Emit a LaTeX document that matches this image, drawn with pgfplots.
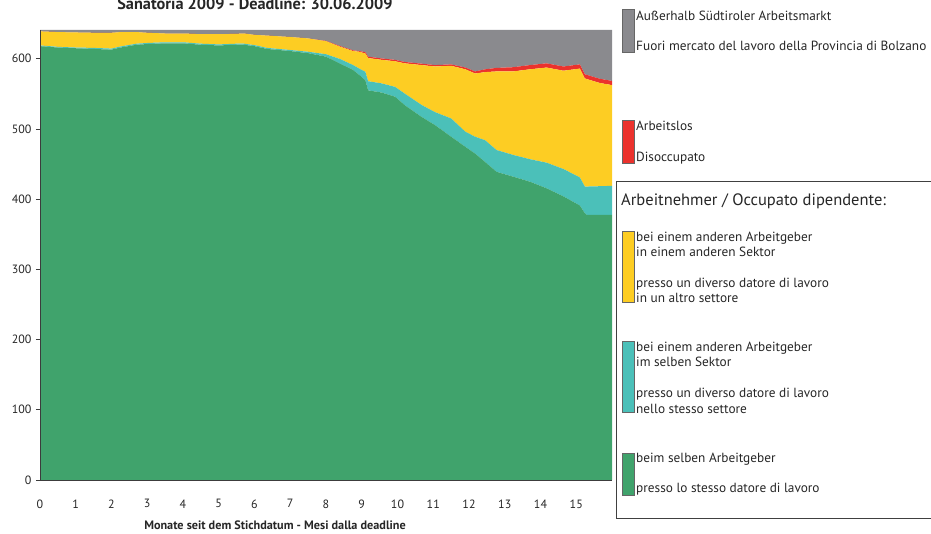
\documentclass[border=0pt]{standalone}
\usepackage{pgfplots}
\pgfplotsset{compat=1.18}
\usepackage{pgfplotstable}
\usepackage{fontspec}
\setmainfont{PT Sans}
\definecolor{cgray}{RGB}{138,138,142}
\definecolor{cred}{RGB}{235,50,45}
\definecolor{cyellow}{RGB}{253,205,35}
\definecolor{cteal}{RGB}{75,192,185}
\definecolor{cgreen}{RGB}{64,163,108}
\definecolor{axisc}{RGB}{60,60,60}

\pgfplotstableread{
x     green teal yellow red gray
0     618   1    20     0   2
0.5   616   1    21     0   3
1.0   615   1    21.5   0   3.5
1.5   614   1.5  21.5   0   4
2.0   613   1.5  22.5   0   4
2.25  616   1.5  20.5   0   3
2.7   620   1.5  16.5   0   3
3.0   621   1.5  14.5   0   4
3.5   622   1.5  12.5   0   5
4.0   622   1.5  12.5   0   5
4.5   620   1.5  13.5   0   6
5.0   619   1.5  14.5   0   6
5.5   620   1.5  14     0   5.5
5.7   620   1.5  14.5   0   5
6.0   618   1.5  14.5   0   7
6.35  614   1.5  17.5   0   8
7.0   611   1.5  18.5   0   10
7.5   608   2    19     0   12
8.0   603   3.5  18.5   0.5 15.5
8.4   593   6.5  17.5   1   23
8.76  584   7    20     1   29
8.93  577   9    24     1   30
9.1   569.5 12   26     2   31.5
9.18  555   13   33     2   38
9.55  552   13   33.5   2   40.5
9.93  546   14   36.5   2   42.5
10.2  534   16.5 43     2   45.5
10.68 517   17   57     2   48
11.05 505.5 18.5 65     2   50
11.5  489   26   75     2   49
11.9  474.5 21.5 89     2.5 53.5
12.17 465   24   90     3   59
12.45 453   31   97     4   56
12.77 439   31   112    5   54
13.24 432   31   119    6   53
13.7  425   32   128    6   50
14.17 415.5 36.5 135.5  6   47.5
14.64 404   39   140    6   52
15.1  391   40   155    6   49
15.24 380   38   154    6   63
15.3  377.5 40.5 153    6   64
15.66 377.5 41   147    6   69.5
16    377.5 41.5 143.5  6   72.5
}\data

\begin{document}
\begin{tikzpicture}
\begin{axis}[
  at={(40pt,53pt)}, anchor=south west,
  scale only axis, width=572pt, height=450pt,
  xmin=0, xmax=16, ymin=0, ymax=641,
  axis x line=bottom, axis y line=left,
  axis line style={axisc, line width=0.8pt, -},
  xtick={0,1,...,15}, ytick={0,100,...,600},
  x tick style={draw=none},
  y tick style={axisc, line width=0.6pt},
  tick align=outside, major tick length=4pt,
  /pgf/number format/assume math mode=true,
  ticklabel style={font=\fontsize{12}{14}\selectfont, text=black!85},
  xticklabel style={yshift=-12pt},
  yticklabel style={xshift=-1pt},
  stack plots=y, area style,
]
\addplot[fill=cgreen, draw=none] table[x=x, y=green]{\data} \closedcycle;
\addplot[fill=cteal, draw=none] table[x=x, y=teal]{\data} \closedcycle;
\addplot[fill=cyellow, draw=none] table[x=x, y=yellow]{\data} \closedcycle;
\addplot[fill=cred, draw=none] table[x=x, y=red]{\data} \closedcycle;
\addplot[fill=cgray, draw=none] table[x=x, y=gray]{\data} \closedcycle;
\end{axis}
\begin{scope}[x=1pt, y=1pt]
% title and x label
\node[anchor=base, font=\bfseries\fontsize{16.3}{19}\selectfont, text=black!85] at (255,523.3) {Sanatoria 2009 - Deadline: 30.06.2009};
\node[anchor=base, font=\bfseries\fontsize{12.2}{14}\selectfont, text=black!85] at (275,4) {Monate seit dem Stichdatum - Mesi dalla deadline};
% legend: upper entries
\def\lf{\fontsize{13.3}{16}\selectfont}
\draw[black!60, fill=cgray] (622,524) rectangle (634,481);
\node[anchor=base west, inner sep=0pt, font=\lf, text=black!85] at (636,512.5) {Außerhalb Südtiroler Arbeitsmarkt};
\node[anchor=base west, inner sep=0pt, font=\lf, text=black!85] at (636,482) {Fuori mercato del lavoro della Provincia di Bolzano};
\draw[black!60, fill=cred] (622,413) rectangle (634,370);
\node[anchor=base west, inner sep=0pt, font=\lf, text=black!85] at (636,402) {Arbeitslos};
\node[anchor=base west, inner sep=0pt, font=\lf, text=black!85] at (636,371) {Disoccupato};
% framed box
\draw[black!75, line width=0.8pt] (945,352) -- (616,352) -- (616,15) -- (945,15);
\node[anchor=base west, inner sep=0pt, font=\fontsize{16.5}{19}\selectfont, text=black!85] at (621,327) {Arbeitnehmer / Occupato dipendente:};
\draw[black!60, fill=cyellow] (622,301.3) rectangle (634,230.7);
\node[anchor=base west, inner sep=0pt, font=\lf, text=black!85] at (636,291.7) {bei einem anderen Arbeitgeber};
\node[anchor=base west, inner sep=0pt, font=\lf, text=black!85] at (636,276.3) {in einem anderen Sektor};
\node[anchor=base west, inner sep=0pt, font=\lf, text=black!85] at (636,245.3) {presso un diverso datore di lavoro};
\node[anchor=base west, inner sep=0pt, font=\lf, text=black!85] at (636,230.3) {in un altro settore};
\draw[black!60, fill=cteal] (622,191.3) rectangle (634,120.7);
\node[anchor=base west, inner sep=0pt, font=\lf, text=black!85] at (636,181.7) {bei einem anderen Arbeitgeber};
\node[anchor=base west, inner sep=0pt, font=\lf, text=black!85] at (636,166.3) {im selben Sektor};
\node[anchor=base west, inner sep=0pt, font=\lf, text=black!85] at (636,135.3) {presso un diverso datore di lavoro};
\node[anchor=base west, inner sep=0pt, font=\lf, text=black!85] at (636,120) {nello stesso settore};
\draw[black!60, fill=cgreen] (622,80.3) rectangle (634,38);
\node[anchor=base west, inner sep=0pt, font=\lf, text=black!85] at (636,71) {beim selben Arbeitgeber};
\node[anchor=base west, inner sep=0pt, font=\lf, text=black!85] at (636,40.7) {presso lo stesso datore di lavoro};
\pgfresetboundingbox
\path[use as bounding box] (0,0) rectangle (931,533);
\end{scope}
\end{tikzpicture}
\end{document}
